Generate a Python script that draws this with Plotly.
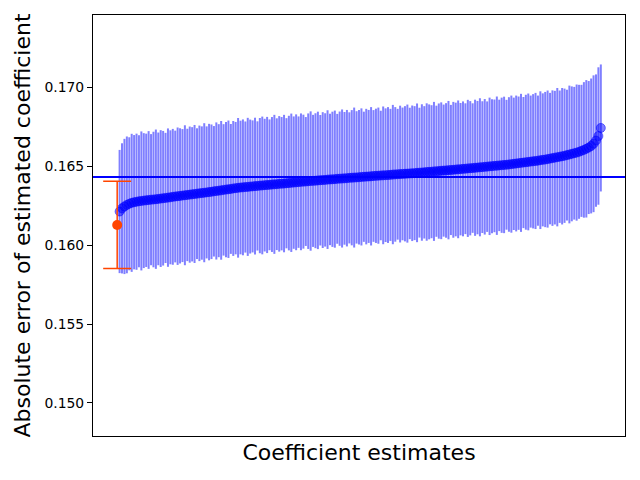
import plotly.graph_objects as go

# sorted coefficient estimates (200 replicates) and their standard errors
estimates = [
    0.16212, 0.16232, 0.16244, 0.16254, 0.16261, 0.16267, 0.16271, 0.16274, 0.16277, 0.16279,
    0.16281, 0.16283, 0.16285, 0.16287, 0.16288, 0.16290, 0.16292, 0.16294, 0.16296, 0.16298,
    0.16300, 0.16302, 0.16305, 0.16307, 0.16309, 0.16311, 0.16313, 0.16315, 0.16317, 0.16319,
    0.16321, 0.16323, 0.16325, 0.16327, 0.16329, 0.16331, 0.16333, 0.16335, 0.16337, 0.16340,
    0.16342, 0.16344, 0.16346, 0.16349, 0.16351, 0.16353, 0.16355, 0.16358, 0.16360, 0.16362,
    0.16364, 0.16365, 0.16367, 0.16368, 0.16370, 0.16371, 0.16373, 0.16374, 0.16376, 0.16377,
    0.16379, 0.16380, 0.16381, 0.16383, 0.16384, 0.16385, 0.16387, 0.16388, 0.16389, 0.16391,
    0.16392, 0.16394, 0.16395, 0.16397, 0.16398, 0.16400, 0.16401, 0.16402, 0.16404, 0.16405,
    0.16406, 0.16407, 0.16409, 0.16410, 0.16411, 0.16412, 0.16414, 0.16415, 0.16416, 0.16417,
    0.16419, 0.16420, 0.16421, 0.16422, 0.16423, 0.16425, 0.16426, 0.16427, 0.16428, 0.16429,
    0.16431, 0.16432, 0.16433, 0.16434, 0.16435, 0.16437, 0.16438, 0.16439, 0.16440, 0.16441,
    0.16442, 0.16443, 0.16444, 0.16446, 0.16447, 0.16448, 0.16449, 0.16450, 0.16451, 0.16452,
    0.16453, 0.16454, 0.16455, 0.16457, 0.16458, 0.16459, 0.16460, 0.16462, 0.16463, 0.16464,
    0.16466, 0.16467, 0.16468, 0.16470, 0.16471, 0.16472, 0.16474, 0.16475, 0.16476, 0.16478,
    0.16479, 0.16480, 0.16482, 0.16483, 0.16485, 0.16486, 0.16487, 0.16489, 0.16490, 0.16492,
    0.16493, 0.16495, 0.16496, 0.16498, 0.16499, 0.16501, 0.16502, 0.16504, 0.16505, 0.16507,
    0.16508, 0.16510, 0.16512, 0.16514, 0.16516, 0.16518, 0.16520, 0.16522, 0.16524, 0.16526,
    0.16528, 0.16530, 0.16532, 0.16534, 0.16537, 0.16539, 0.16541, 0.16544, 0.16547, 0.16550,
    0.16553, 0.16556, 0.16559, 0.16562, 0.16565, 0.16569, 0.16573, 0.16577, 0.16581, 0.16585,
    0.16590, 0.16596, 0.16602, 0.16609, 0.16617, 0.16627, 0.16641, 0.16661, 0.16690, 0.16741,
]
errors = [
    0.00390, 0.00412, 0.00428, 0.00433, 0.00421, 0.00437, 0.00425, 0.00431, 0.00418, 0.00440,
    0.00427, 0.00422, 0.00436, 0.00415, 0.00429, 0.00441, 0.00420, 0.00433, 0.00426, 0.00412,
    0.00438, 0.00424, 0.00430, 0.00417, 0.00435, 0.00428, 0.00421, 0.00443, 0.00419, 0.00431,
    0.00425, 0.00437, 0.00414, 0.00429, 0.00422, 0.00440, 0.00418, 0.00432, 0.00426, 0.00413,
    0.00434, 0.00421, 0.00439, 0.00416, 0.00428, 0.00435, 0.00411, 0.00427, 0.00419, 0.00442,
    0.00423, 0.00430, 0.00415, 0.00437, 0.00424, 0.00418, 0.00433, 0.00409, 0.00428, 0.00436,
    0.00420, 0.00431, 0.00414, 0.00427, 0.00440, 0.00417, 0.00429, 0.00422, 0.00435, 0.00412,
    0.00426, 0.00438, 0.00419, 0.00430, 0.00416, 0.00433, 0.00424, 0.00408, 0.00429, 0.00441,
    0.00418, 0.00427, 0.00435, 0.00413, 0.00430, 0.00422, 0.00439, 0.00416, 0.00428, 0.00434,
    0.00411, 0.00425, 0.00437, 0.00420, 0.00432, 0.00415, 0.00428, 0.00443, 0.00419, 0.00426,
    0.00434, 0.00412, 0.00429, 0.00421, 0.00438, 0.00417, 0.00425, 0.00431, 0.00410, 0.00436,
    0.00423, 0.00430, 0.00418, 0.00441, 0.00426, 0.00414, 0.00433, 0.00420, 0.00428, 0.00437,
    0.00416, 0.00429, 0.00424, 0.00439, 0.00411, 0.00432, 0.00419, 0.00435, 0.00427, 0.00421,
    0.00440, 0.00415, 0.00428, 0.00433, 0.00418, 0.00426, 0.00438, 0.00412, 0.00430, 0.00423,
    0.00436, 0.00419, 0.00427, 0.00414, 0.00434, 0.00425, 0.00410, 0.00431, 0.00422, 0.00437,
    0.00417, 0.00429, 0.00413, 0.00435, 0.00424, 0.00420, 0.00438, 0.00416, 0.00428, 0.00432,
    0.00411, 0.00426, 0.00434, 0.00419, 0.00430, 0.00422, 0.00437, 0.00415, 0.00427, 0.00433,
    0.00418, 0.00425, 0.00431, 0.00412, 0.00436, 0.00421, 0.00428, 0.00434, 0.00416, 0.00429,
    0.00423, 0.00438, 0.00419, 0.00432, 0.00425, 0.00414, 0.00436, 0.00427, 0.00420, 0.00431,
    0.00424, 0.00418, 0.00429, 0.00435, 0.00421, 0.00427, 0.00433, 0.00419, 0.00435, 0.00402,
]
positions = list(range(1, len(estimates) + 1))

# the estimate highlighted in red, drawn at position 0
main_position = [0]
main_estimate = [0.16127]
main_error = [0.00276]

true_value = 0.1643

tick_vals = [0.150, 0.155, 0.160, 0.165, 0.170]
tick_text = ['0.150', '0.155', '0.160', '0.165', '0.170']

fig = go.Figure()
fig.add_trace(go.Scatter(
    x=positions,
    y=estimates,
    mode='markers',
    marker=dict(size=9, color='rgba(0,0,255,0.5)',
                line=dict(width=1, color='rgba(0,0,255,0.5)')),
    error_y=dict(type='data', array=errors, color='rgba(0,0,255,0.5)',
                 thickness=2, width=0),
    showlegend=False
))
fig.add_trace(go.Scatter(
    x=main_position,
    y=main_estimate,
    mode='markers',
    marker=dict(size=10, color='orangered'),
    error_y=dict(type='data', array=main_error, color='orangered',
                 thickness=1.5, width=14),
    showlegend=False
))
fig.add_hline(y=true_value, line=dict(color='blue', width=2))

# page body adds ~8px offset, so the figure is a little smaller than the window
fig.update_layout(
    width=632,
    height=472,
    margin=dict(l=85, r=15, t=7, b=44),
    paper_bgcolor='white',
    plot_bgcolor='white',
    font=dict(family='DejaVu Sans', color='black'),
    xaxis=dict(
        range=[-10, 210],
        showticklabels=False,
        ticks='',
        showgrid=False,
        zeroline=False,
        automargin=False,
        showline=True, linecolor='black', linewidth=1, mirror=True,
        title=dict(text='Coefficient estimates', font=dict(size=22), standoff=8),
    ),
    yaxis=dict(
        range=[0.14791, 0.17456],
        tickvals=tick_vals,
        ticktext=tick_text,
        ticks='outside', ticklen=5, tickwidth=1, tickcolor='black',
        tickfont=dict(size=13.9),
        showgrid=False,
        zeroline=False,
        automargin=False,
        showline=True, linecolor='black', linewidth=1, mirror=True,
        title=dict(text='Absolute error of estimated coefficient', font=dict(size=22), standoff=7),
    ),
)
fig.write_html("out.html")
